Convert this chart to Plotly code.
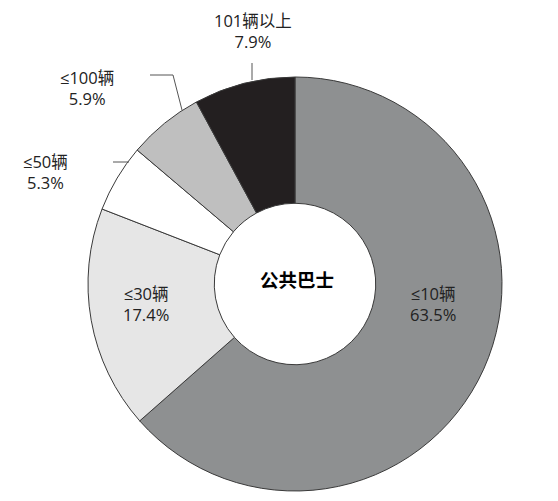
import plotly.graph_objects as go

categories = ["≤10辆", "≤30辆", "≤50辆", "≤100辆", "101辆以上"]
shares = [63.5, 17.4, 5.3, 5.9, 7.9]
colors = ["#8e9091", "#e6e6e6", "#ffffff", "#bfbfbf", "#231f20"]
center_label = "公共巴士"

W, H = 558, 501
cx, cy, r = 295, 284, 207  # pixel layout of the donut

def px(x):
    return x / W

def py(y):
    return 1 - y / H

fig = go.Figure(go.Pie(
    labels=categories,
    values=shares,
    sort=False,
    direction="clockwise",
    rotation=0,
    hole=0.39,
    marker=dict(colors=colors, line=dict(color="#3a3a3a", width=1)),
    textinfo="none",
    hoverinfo="label+percent",
    showlegend=False,
    domain=dict(x=[px(cx - r), px(cx + r)], y=[py(cy + r), py(cy - r)]),
))

font = dict(family="Open Sans, Noto Sans CJK SC, sans-serif", size=16.5, color="#222222")
label_pos = {
    "≤10辆": (433, 304),
    "≤30辆": (146, 304),
    "≤50辆": (45, 172),
    "≤100辆": (87, 88),
    "101辆以上": (253, 31),
}
anns = []
for c, v in zip(categories, shares):
    x, y = label_pos[c]
    anns.append(dict(x=px(x), y=py(y), xref="paper", yref="paper", showarrow=False,
                     xanchor="center", yanchor="middle",
                     text=f"{c}<br>{v}%", font=font, align="center"))
anns.append(dict(x=px(cx + 2), y=py(279), xref="paper", yref="paper", showarrow=False,
                 xanchor="center", yanchor="middle",
                 text=f"<b>{center_label}</b>",
                 font=dict(family="Noto Sans CJK SC, sans-serif", size=18.5, color="#000000",
                           weight=900)))

line = dict(color="#555555", width=1)
shapes = [
    dict(type="path", xref="paper", yref="paper",
         path=f"M {px(252)} {py(63)} L {px(252)} {py(80)}", line=line),
    dict(type="path", xref="paper", yref="paper",
         path=f"M {px(150)} {py(75)} L {px(173)} {py(75)} L {px(182)} {py(110)}", line=line),
    dict(type="path", xref="paper", yref="paper",
         path=f"M {px(113)} {py(162)} L {px(129)} {py(162)}", line=line),
]

fig.update_layout(width=W, height=H, margin=dict(l=0, r=0, t=0, b=0),
                  paper_bgcolor="white", plot_bgcolor="white",
                  annotations=anns, shapes=shapes)
fig.write_html("out.html", config={"displayModeBar": False},
               post_script="document.body.style.margin='0';")
